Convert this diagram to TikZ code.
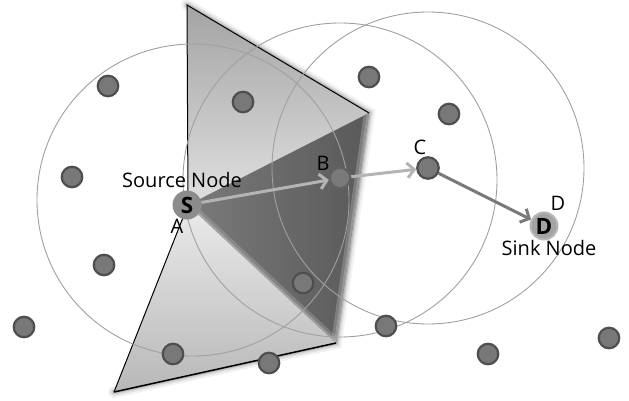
\documentclass[tikz,border=0pt]{standalone}
\usepackage{fontspec}
\setmainfont{Open Sans}
\usetikzlibrary{arrows.meta}
\definecolor{dotfill}{HTML}{787878}
\definecolor{dotline}{HTML}{4E4E4E}
\definecolor{ringgray}{HTML}{A0A0A0}
\definecolor{arrowlight}{HTML}{B4B4B4}
\definecolor{arrowdark}{HTML}{7A7A7A}
\begin{document}
\begin{tikzpicture}[x=1pt,y=-1pt,
  dot/.style={circle,fill=dotfill,draw=dotline,line width=2.2pt,minimum size=20.5pt,inner sep=0pt},
  ring/.style={draw=ringgray,line width=0.9pt},
  lbl/.style={font=\fontsize{20}{22}\selectfont,inner sep=0pt,anchor=base},
  bigdot/.style={circle,minimum size=29pt,inner sep=0pt,font=\fontsize{22.5}{24}\selectfont\bfseries},
  arr/.style={line width=3pt,-{Straight Barb[length=7pt,width=15pt]}},
  edge/.style={draw=black,line width=1pt},
  shad/.style={draw=black,line cap=round}
]
\useasboundingbox (0,0) rectangle (629,401);
% key coordinates of the shapes
\coordinate (T) at (187,5);
\coordinate (TR) at (369,113);
\coordinate (BR) at (336,343);
\coordinate (BL) at (114,392);
\coordinate (SV) at (188,205);
% soft shadows
\foreach \w/\o in {12/0.05,8/0.07,5/0.09,3/0.12}{
  \draw[shad,line width=\w pt,opacity=\o] (T) -- (TR) -- (BR) -- (BL);
}
% light top triangle
\shade[top color=black!36,bottom color=black!12] (T) -- (TR) -- (SV) -- cycle;
% light bottom triangle
\shade[top color=black!8,bottom color=black!28] (SV) -- (BR) -- (BL) -- cycle;
% dark region
\shade[left color=black!52,right color=black!65] (SV) -- (TR) -- (BR) -- cycle;
\begin{scope}
  \clip (SV) -- (TR) -- (BR) -- cycle;
  \draw[line width=10pt,black!42,opacity=0.6] (TR) -- (BR);
  \draw[line width=4pt,black!30,opacity=0.5] (TR) -- (BR);
  \draw[line width=10pt,black!30,opacity=0.35] (SV) -- (BR);
  \draw[line width=4pt,black!20,opacity=0.4] (SV) -- (BR);
\end{scope}
% outlines
\draw[edge] (SV) -- (T) -- (TR);
\draw[edge] (SV) -- (BL);
\draw[edge,line width=1.5pt] (BL) -- (BR);
% range circles
\draw[ring] (193,200) circle[radius=156];
\draw[ring] (340,180) circle[radius=157];
\draw[ring] (428,168) circle[radius=156];
% plain nodes
\node[dot] (n1) at (108,86) {};
\node[dot] (n2) at (243,102) {};
\node[dot] (n3) at (369,77) {};
\node[dot] (n4) at (449,114) {};
\node[dot] (n5) at (72,177) {};
\node[dot] (n6) at (104,265) {};
\node[dot] (n7) at (303,283) {};
\node[dot] (n8) at (24,327) {};
\node[dot] (n9) at (173,354) {};
\node[dot] (n10) at (269,363) {};
\node[dot] (n11) at (386,326) {};
\node[dot] (n12) at (488,354) {};
\node[dot] (n13) at (609,338) {};
% route nodes
\node[dot,draw=black!62,fill=black!52] (B) at (340,178) {};
\node[dot,minimum size=21.5pt] (C) at (428,168) {};
\node[bigdot,fill=black!45] (S) at (187,205) {S};
\node[bigdot,fill=black!36,draw=black!28,line width=2pt,minimum size=27pt] (D) at (544,226) {D};
% route arrows
\draw[arr,arrowlight] (S) -- (B);
\draw[arr,arrowlight] (B) -- (C);
\draw[arr,arrowdark] (C) -- (D);
% labels
\node[lbl] (lsrc) at (182,187) {Source Node};
\node[lbl] (la) at (177,233) {A};
\node[lbl] (lb) at (323,170) {B};
\node[lbl] (lc) at (420,154) {C};
\node[lbl] (ld) at (558,210) {D};
\node[lbl] (lsink) at (549,255) {Sink Node};
\end{tikzpicture}
\end{document}
